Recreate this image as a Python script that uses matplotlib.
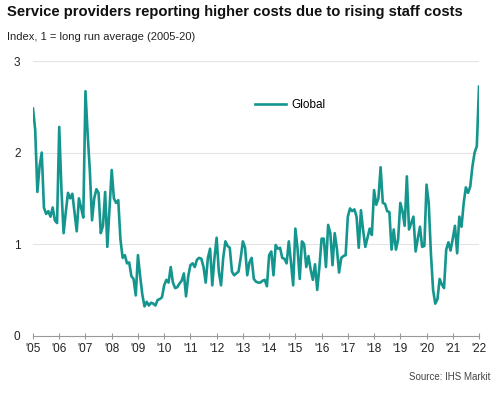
import numpy as np
import matplotlib
matplotlib.use("Agg")
import matplotlib.pyplot as plt

plt.rcParams['font.family'] = ['Liberation Sans', 'DejaVu Sans']

# monthly index values, Jan 2005 .. Jan 2022
v2005 = [2.48, 2.25, 1.57, 1.85, 2.0, 1.4, 1.33, 1.36, 1.30, 1.40, 1.26, 1.23]
v2006 = [2.28, 1.6, 1.12, 1.35, 1.56, 1.5, 1.55, 1.35, 1.14, 1.5, 1.4, 1.29]
v2007 = [2.67, 2.2, 1.8, 1.26, 1.5, 1.6, 1.56, 1.12, 1.2, 1.57, 0.97, 1.4]
v2008 = [1.81, 1.5, 1.45, 1.48, 1.05, 0.85, 0.88, 0.79, 0.8, 0.65, 0.62, 0.44]
v2009 = [0.88, 0.65, 0.45, 0.32, 0.37, 0.33, 0.36, 0.35, 0.33, 0.39, 0.40, 0.42]
v2010 = [0.55, 0.61, 0.58, 0.75, 0.58, 0.52, 0.53, 0.57, 0.6, 0.68, 0.43, 0.65]
v2011 = [0.77, 0.79, 0.75, 0.83, 0.85, 0.84, 0.75, 0.58, 0.85, 0.95, 0.55, 0.85]
v2012 = [1.07, 0.7, 0.55, 0.85, 1.03, 0.98, 0.96, 0.7, 0.66, 0.68, 0.7, 0.85]
v2013 = [1.03, 0.96, 0.66, 0.8, 0.85, 0.62, 0.59, 0.58, 0.58, 0.6, 0.61, 0.54]
v2014 = [0.88, 0.92, 0.66, 0.99, 0.95, 0.96, 0.85, 0.84, 0.79, 1.03, 0.8, 0.55]
v2015 = [1.17, 0.95, 0.62, 1.03, 1.0, 0.75, 0.87, 0.72, 0.61, 0.78, 0.5, 0.75]
v2016 = [1.06, 1.06, 0.75, 1.21, 1.12, 0.77, 1.12, 0.95, 0.69, 0.85, 0.87, 0.88]
v2017 = [1.3, 1.39, 1.36, 1.38, 1.3, 0.96, 1.37, 1.15, 0.97, 1.07, 1.17, 1.1]
v2018 = [1.59, 1.43, 1.5, 1.84, 1.45, 1.44, 1.36, 1.35, 0.94, 1.16, 0.94, 1.05]
v2019 = [1.45, 1.36, 1.2, 1.74, 1.16, 1.23, 1.3, 0.92, 1.06, 1.19, 0.97, 0.98]
v2020 = [1.65, 1.45, 0.9, 0.5, 0.35, 0.4, 0.62, 0.56, 0.52, 0.94, 1.02, 0.93]
v2021 = [1.06, 1.2, 0.9, 1.3, 1.19, 1.45, 1.62, 1.56, 1.63, 1.85, 2.0, 2.07]
v2022 = [2.72]

years = list(range(2005, 2023))
year_labels = ["'%02d" % (y % 100) for y in years]
y_ticks = [0, 1, 2, 3]

values = (v2005 + v2006 + v2007 + v2008 + v2009 + v2010 + v2011 + v2012 + v2013
          + v2014 + v2015 + v2016 + v2017 + v2018 + v2019 + v2020 + v2021 + v2022)
x = 2005 + np.arange(len(values)) / 12.0

teal = '#14968e'
fig = plt.figure(figsize=(4.96, 3.95), dpi=100)
ax = fig.add_axes([33 / 496, 1 - 335.7 / 395, (479 - 33) / 496, (335.7 - 61) / 395])

ax.plot(x, values, color=teal, lw=1.9, label='Global')
ax.set_xlim(2005, 2022)
ax.set_ylim(0, 3)

ax.set_yticks(y_ticks)
ax.set_yticklabels([str(t) for t in y_ticks], fontsize=8.5, color='#222222')
ax.set_xticks(years)
ax.set_xticklabels(year_labels, fontsize=8.5, color='#222222')
ax.tick_params(axis='y', length=0, pad=9)
ax.tick_params(axis='x', length=4, width=0.8, color='#999999', direction='inout', pad=3)

for g in y_ticks[1:]:
    ax.axhline(g, color='#e3e3e3', lw=0.8, zorder=0)
for s in ['top', 'right', 'left']:
    ax.spines[s].set_visible(False)
ax.spines['bottom'].set_color('#999999')
ax.spines['bottom'].set_linewidth(0.8)

ax.legend(loc='upper left', bbox_to_anchor=(0.475, 0.9), frameon=False, fontsize=8.5,
          handlelength=2.6, handletextpad=0.4)

fig.text(7 / 496, 1 - 12 / 395, 'Service providers reporting higher costs due to rising staff costs',
         fontsize=10.6, fontweight='bold', va='center', ha='left', color='#111111')
fig.text(7 / 496, 1 - 37 / 395, 'Index, 1 = long run average (2005-20)',
         fontsize=8, va='center', ha='left', color='#222222')
fig.text(490 / 496, 1 - 377 / 395, 'Source: IHS Markit',
         fontsize=7, va='center', ha='right', color='#444444')

fig.savefig('out.png', dpi=100)
